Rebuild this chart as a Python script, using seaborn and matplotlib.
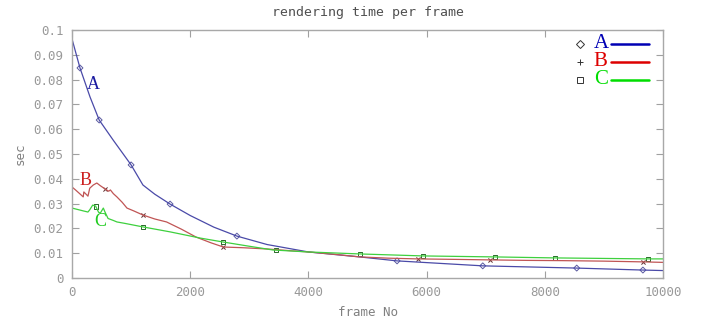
import matplotlib
matplotlib.use("Agg")
import matplotlib.pyplot as plt
import seaborn as sns
import pandas as pd

# ---- data ----
a_frames = [0, 135, 305, 460, 700, 1000, 1200, 1400, 1660, 2000, 2400, 2790, 3300, 4000, 4870, 5500, 6950, 8540, 9660, 10000]
a_sec = [0.0964, 0.0847, 0.073, 0.0637, 0.0555, 0.0456, 0.0375, 0.0338, 0.0298, 0.0252, 0.0205, 0.0169, 0.0135, 0.0105, 0.0085, 0.0069, 0.0049, 0.0040, 0.0032, 0.0030]

b_frames = [0, 60, 130, 190, 200, 250, 270, 300, 360, 420, 480, 560, 620, 650, 700, 760, 850, 930, 1050, 1200, 1400, 1600, 1850, 2100, 2350, 2560, 2900, 3300, 3700, 4000, 4500, 4870, 5350, 5850, 6500, 7070, 7700, 8300, 9000, 9660, 10000]
b_sec = [0.0367, 0.0355, 0.034, 0.0327, 0.0347, 0.0335, 0.0330, 0.0362, 0.0375, 0.0383, 0.0372, 0.0359, 0.035, 0.0355, 0.034, 0.0327, 0.0305, 0.0282, 0.027, 0.0254, 0.0238, 0.0226, 0.0197, 0.0165, 0.0142, 0.0125, 0.0122, 0.0117, 0.0110, 0.0105, 0.0094, 0.0085, 0.0080, 0.0077, 0.0075, 0.0073, 0.0071, 0.0070, 0.0068, 0.0065, 0.0063]

c_frames = [0, 100, 200, 270, 300, 350, 400, 450, 480, 530, 560, 610, 700, 760, 900, 1200, 1660, 2170, 2560, 3000, 3400, 4000, 4870, 5940, 7160, 8170, 9750, 10000]
c_sec = [0.0282, 0.0276, 0.027, 0.0266, 0.0275, 0.0294, 0.029, 0.0265, 0.0262, 0.0282, 0.0265, 0.024, 0.0232, 0.0226, 0.022, 0.0206, 0.0186, 0.0161, 0.0145, 0.0128, 0.0113, 0.0105, 0.0097, 0.0089, 0.0085, 0.0081, 0.0077, 0.0077]

a_mk_frames = [135, 460, 1000, 1660, 2790, 5500, 6950, 8540, 9660]
a_mk_sec = [0.0847, 0.0637, 0.0456, 0.0298, 0.0169, 0.0069, 0.0049, 0.0040, 0.0032]
b_mk_frames = [560, 1200, 2560, 5850, 7070, 9660]
b_mk_sec = [0.0359, 0.0254, 0.0125, 0.0077, 0.0073, 0.0065]
c_mk_frames = [400, 1200, 2560, 3450, 4870, 5940, 7160, 8170, 9750]
c_mk_sec = [0.0288, 0.0206, 0.0145, 0.0112, 0.0097, 0.0089, 0.0085, 0.0081, 0.0077]

series = ["A", "B", "C"]
line_colors = {"A": "#4a4aa8", "B": "#c05555", "C": "#3ed03e"}
legend_colors = {"A": "#0000b4", "B": "#dd0000", "C": "#00dd00"}
x_ticks = [0, 2000, 4000, 6000, 8000, 10000]
y_ticks = [0, 0.01, 0.02, 0.03, 0.04, 0.05, 0.06, 0.07, 0.08, 0.09, 0.1]
y_tick_labels = ["0", "0.01", "0.02", "0.03", "0.04", "0.05", "0.06", "0.07", "0.08", "0.09", "0.1"]

lines = pd.concat([
    pd.DataFrame({"frame": a_frames, "sec": a_sec, "s": "A"}),
    pd.DataFrame({"frame": b_frames, "sec": b_sec, "s": "B"}),
    pd.DataFrame({"frame": c_frames, "sec": c_sec, "s": "C"}),
])
marks = {
    "A": pd.DataFrame({"frame": a_mk_frames, "sec": a_mk_sec}),
    "B": pd.DataFrame({"frame": b_mk_frames, "sec": b_mk_sec}),
    "C": pd.DataFrame({"frame": c_mk_frames, "sec": c_mk_sec}),
}
mk_style = {"A": "D", "B": "x", "C": "s"}
mk_edge = {"A": "#5a5aa0", "B": "#603030", "C": "#2a6a2a"}

sns.set_style("white")
mono = ["DejaVu Sans Mono"]
fig = plt.figure(figsize=(7.07, 3.24), dpi=100)
ax = fig.add_axes([72/707, 46/324, 591/707, 248/324])

sns.lineplot(data=lines, x="frame", y="sec", hue="s", palette=line_colors,
             linewidth=0.9, ax=ax, legend=False, sort=False, estimator=None)
for s in series:
    sns.scatterplot(data=marks[s], x="frame", y="sec", ax=ax, marker=mk_style[s],
                    s=9, facecolor="none" if s != "B" else mk_edge[s],
                    edgecolor=mk_edge[s], linewidth=0.7, legend=False)

ax.set_xlim(0, 10000)
ax.set_ylim(0, 0.1)
ax.set_xticks(x_ticks)
ax.set_xticklabels([str(t) for t in x_ticks], family=mono, fontsize=9, color="#999999")
ax.set_yticks(y_ticks)
ax.set_yticklabels(y_tick_labels, family=mono, fontsize=9, color="#999999")
ax.tick_params(direction="in", length=5, color="#a0a0a0", top=True, right=True,
               bottom=True, left=True, pad=6)
for sp in ax.spines.values():
    sp.set_visible(True)
    sp.set_color("#a8a8a8")
    sp.set_linewidth(1.0)

ax.set_xlabel("frame No", family=mono, fontsize=9, color="#808080", labelpad=5)
ax.set_ylabel("sec", family=mono, fontsize=9, color="#808080", labelpad=5)
ax.set_title("rendering time per frame", family=mono, fontsize=9.5, color="#505050", pad=10)

serif = ["Liberation Serif", "DejaVu Serif"]
# curve labels
ax.text(355, 0.0782, "A", color="#1a1aa0", family=serif, fontsize=13, ha="center", va="center")
ax.text(237, 0.0395, "B", color="#cc2020", family=serif, fontsize=13, ha="center", va="center")
ax.text(474, 0.0226, "C", color="#20cc20", family=serif, fontsize=13, ha="center", va="center")

# legend (marker, label, line)
leg_marks = {"A": "D", "B": "+", "C": "s"}
for i, s in enumerate(series):
    yy = 0.944 - i * 0.072
    ax.plot([0.86], [yy], transform=ax.transAxes, marker=leg_marks[s], markersize=4.5,
            markerfacecolor="none", markeredgecolor="#333333", markeredgewidth=0.7, clip_on=False)
    ax.text(0.883, yy, s, transform=ax.transAxes, color=legend_colors[s], family=serif,
            fontsize=15, va="center", ha="left")
    ax.plot([0.912, 0.977], [yy, yy], transform=ax.transAxes, color=legend_colors[s],
            linewidth=1.8, clip_on=False)

fig.savefig("out.png", dpi=100)
